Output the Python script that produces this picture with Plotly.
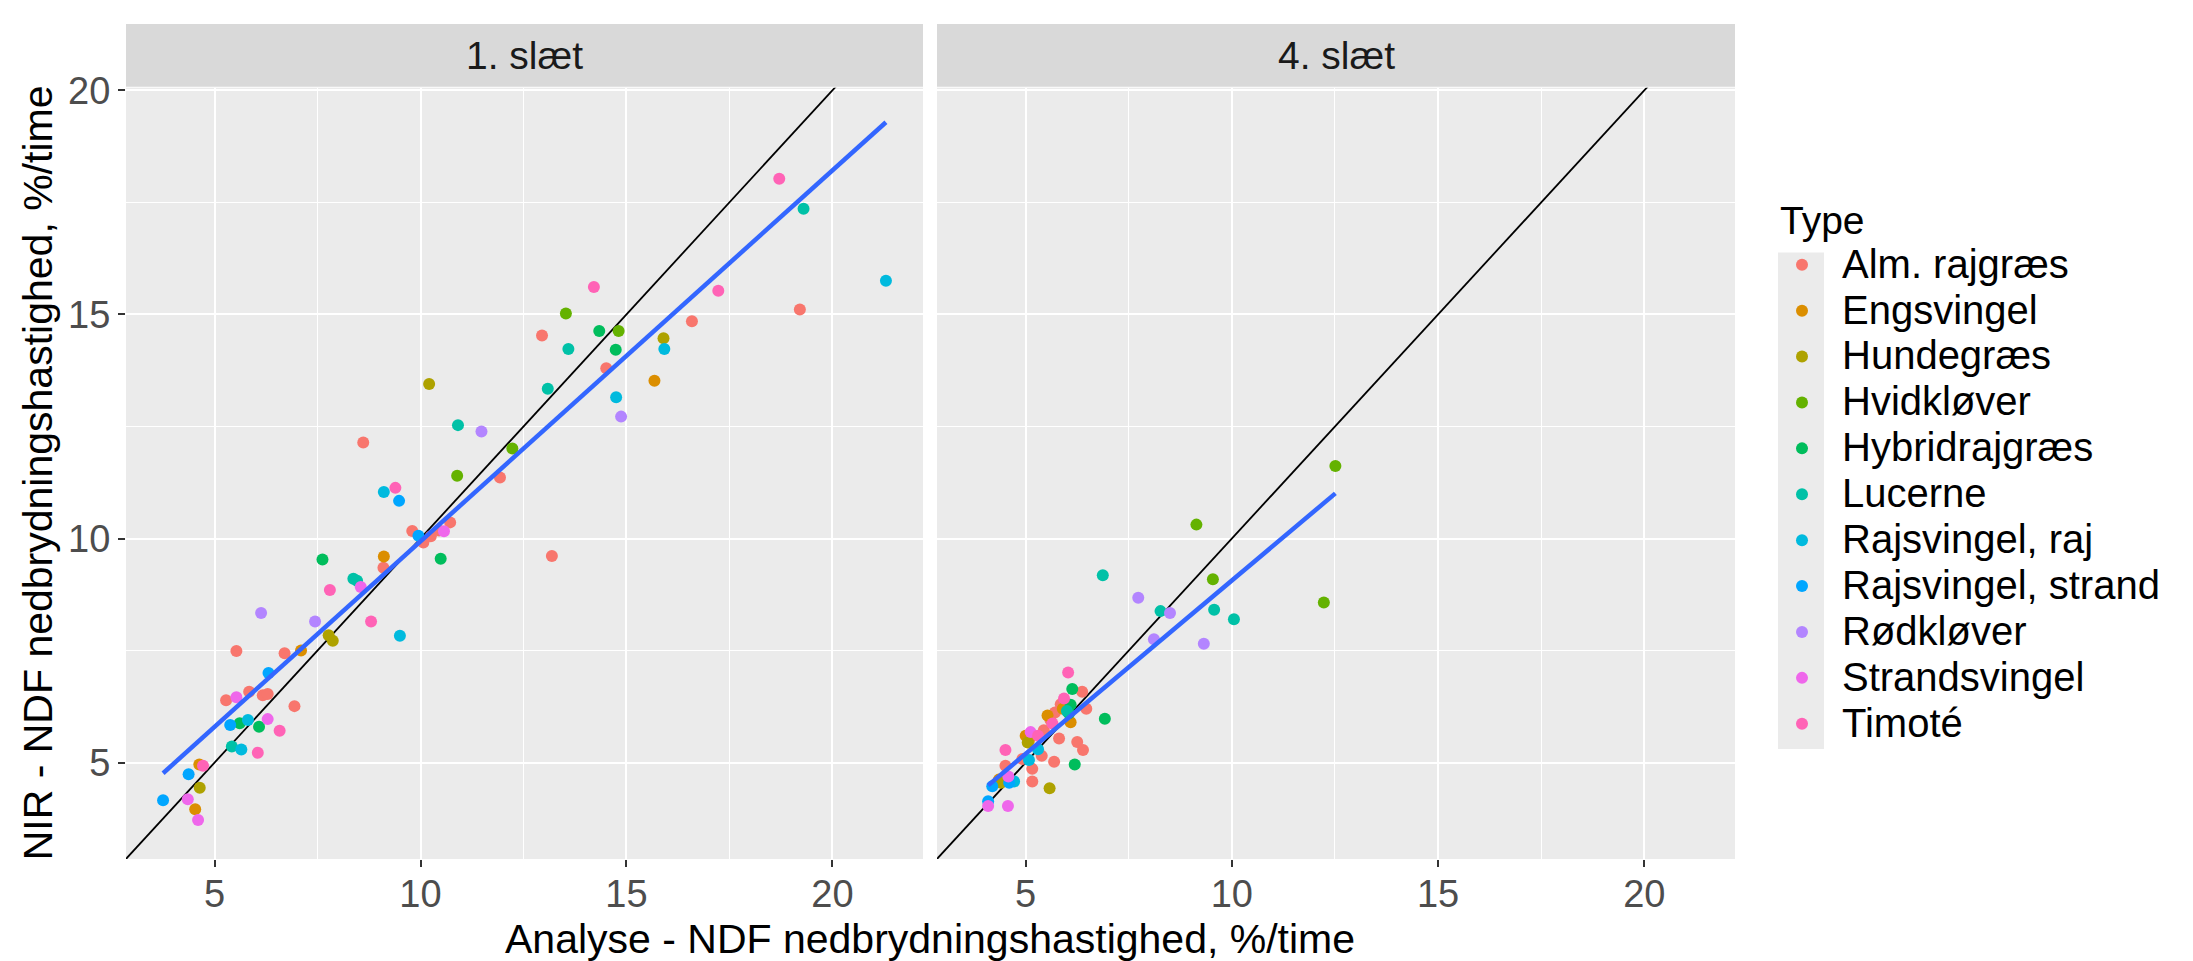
import numpy as np
import plotly.graph_objects as go

W, H = 2193, 961
FONT = "Liberation Sans, Arial, sans-serif"

TYPES = ["Alm. rajgræs", "Engsvingel", "Hundegræs", "Hvidkløver", "Hybridrajgræs",
         "Lucerne", "Rajsvingel, raj", "Rajsvingel, strand", "Rødkløver",
         "Strandsvingel", "Timoté"]
COLORS = ["#F8766D", "#DB8E00", "#AEA200", "#64B200", "#00BD5C", "#00C1A7",
          "#00BADE", "#00A6FF", "#B385FF", "#EF67EB", "#FF63B6"]
FACETS = ["1. slæt", "4. slæt"]
X_TICKS = [5, 10, 15, 20]
Y_TICKS = [5, 10, 15, 20]
MINOR_TICKS = [7.5, 12.5, 17.5]
X_TITLE = "Analyse - NDF nedbrydningshastighed, %/time"
Y_TITLE = "NIR - NDF nedbrydningshastighed, %/time"
LEGEND_TITLE = "Type"

# ---- 1. slæt : type index, analyse (x), NIR (y)
P1_TYPE = [0]*20 + [1]*5 + [2]*5 + [3]*4 + [4]*6 + [5]*7 + [6]*7 + [7]*6 + [8]*4 + [9]*6 + [10]*9
P1_X = [5.28, 5.84, 6.17, 6.29, 6.94, 5.53, 6.70, 9.10, 8.61, 9.80, 10.07, 10.25, 10.45, 10.72, 11.93, 13.19, 12.95, 14.51, 16.59, 19.21,
        4.53, 4.63, 7.10, 9.11, 15.68,
        4.64, 7.77, 7.87, 10.21, 15.90,
        10.89, 12.23, 13.53, 14.81,
        5.61, 6.08, 7.62, 10.49, 14.34, 14.74,
        5.42, 8.37, 8.46, 10.91, 13.09, 13.59, 19.30,
        5.81, 5.65, 9.11, 9.50, 14.75, 15.92, 21.30,
        3.75, 4.37, 5.38, 6.31, 9.48, 9.95,
        6.13, 7.44, 11.48, 14.87,
        4.35, 4.60, 6.29, 5.53, 8.55, 10.57,
        4.72, 6.58, 6.05, 7.80, 8.80, 9.39, 14.21, 17.23, 18.71]
P1_Y = [6.39, 6.58, 6.50, 6.53, 6.26, 7.49, 7.44, 9.35, 12.14, 10.17, 9.91, 10.05, 10.18, 10.36, 11.36, 9.61, 14.53, 13.80, 14.85, 15.11,
        3.96, 4.96, 7.50, 9.60, 13.52,
        4.44, 7.84, 7.72, 13.45, 14.47,
        11.40, 12.01, 15.02, 14.63,
        5.88, 5.80, 9.53, 9.55, 14.63, 14.21,
        5.36, 9.10, 9.06, 12.53, 13.34, 14.23, 17.36,
        5.95, 5.29, 11.04, 7.83, 13.15, 14.23, 15.75,
        4.16, 4.74, 5.84, 7.00, 10.84, 10.06,
        8.34, 8.15, 12.39, 12.72,
        4.18, 3.72, 5.97, 6.46, 8.92, 10.16,
        4.93, 5.71, 5.22, 8.85, 8.15, 11.13, 15.61, 15.53, 18.03]

# ---- 4. slæt
P2_TYPE = [0]*15 + [1]*6 + [2]*3 + [3]*4 + [4]*5 + [5]*5 + [6]*3 + [7]*3 + [8]*4 + [9]*4 + [10]*5
P2_X = [6.37, 6.47, 5.71, 5.81, 6.25, 6.39, 5.44, 5.39, 5.69, 5.16, 5.16, 4.51, 4.92, 5.85, 5.60,
        6.09, 5.53, 5.00, 5.08, 4.35, 5.90,
        5.58, 4.40, 5.05,
        12.51, 9.14, 9.54, 12.23,
        6.13, 6.09, 6.92, 6.19, 6.05,
        6.87, 8.27, 9.57, 10.05, 6.00,
        4.72, 5.08, 5.30,
        4.19, 4.09, 4.60,
        7.73, 8.50, 8.11, 9.32,
        5.12, 4.58, 4.09, 4.57,
        6.03, 5.93, 5.65, 4.51, 5.30]
P2_Y = [6.58, 6.20, 6.12, 5.54, 5.46, 5.28, 5.72, 5.15, 5.02, 4.86, 4.58, 4.93, 5.08, 6.30, 5.95,
        5.90, 6.05, 5.60, 5.50, 4.62, 6.20,
        4.43, 4.55, 5.45,
        11.62, 10.31, 9.09, 8.57,
        6.64, 6.29, 5.98, 4.96, 6.10,
        9.18, 8.38, 8.41, 8.20, 6.15,
        4.58, 5.06, 5.30,
        4.47, 4.14, 4.55,
        8.68, 8.34, 7.75, 7.65,
        5.68, 4.69, 4.03, 4.03,
        7.01, 6.43, 5.87, 5.28, 5.60]

X_RANGE = [2.85, 22.2]
Y_RANGE = [2.85, 20.06]

# panel geometry (pixels)
PANELS_X = [(126, 923), (937, 1735)]
PANEL_TOP, PANEL_BOTTOM = 71, 857
STRIP_TOP = 6


def px(x):
    return x / W


def py(y):
    return (H - y) / H


fig = go.Figure()
panels = [(P1_TYPE, P1_X, P1_Y), (P2_TYPE, P2_X, P2_Y)]
for pi, (tp, xs, ys) in enumerate(panels):
    xa = "x" if pi == 0 else "x2"
    ya = "y" if pi == 0 else "y2"
    tp = np.array(tp)
    xs = np.array(xs)
    ys = np.array(ys)
    # identity line (geom_abline)
    fig.add_trace(go.Scatter(x=[0, 25], y=[0, 25], mode="lines",
                             line=dict(color="black", width=1.8),
                             showlegend=False, hoverinfo="skip", xaxis=xa, yaxis=ya))
    for ti, name in enumerate(TYPES):
        m = tp == ti
        fig.add_trace(go.Scatter(
            x=xs[m], y=ys[m], mode="markers",
            name=f'<span style="font-size:40px">{name}</span>',
            legendgroup=name, showlegend=(pi == 0),
            marker=dict(color=COLORS[ti], size=12, line=dict(width=0)),
            xaxis=xa, yaxis=ya))
    # linear fit (geom_smooth, method = lm)
    b, a = np.polyfit(xs, ys, 1)
    xf = np.array([xs.min(), xs.max()])
    fig.add_trace(go.Scatter(x=xf, y=a + b * xf, mode="lines",
                             line=dict(color="#3366FF", width=4.5),
                             showlegend=False, hoverinfo="skip", xaxis=xa, yaxis=ya))

grid_minor = dict(tickmode="array", tickvals=MINOR_TICKS, showgrid=True,
                  gridcolor="white", gridwidth=1.2, ticks="")
tickfont = dict(family=FONT, size=38, color="#4D4D4D")
axis_x = dict(
    range=X_RANGE, tickmode="array", tickvals=X_TICKS, showgrid=True, gridcolor="white",
    gridwidth=2.4, zeroline=False, showline=False, ticks="outside", ticklen=7, tickwidth=1.6,
    tickcolor="#333333", tickfont=tickfont, ticklabelstandoff=-6, minor=grid_minor,
)

shapes = []
annotations = []
for pi, (x0, x1) in enumerate(PANELS_X):
    shapes.append(dict(type="rect", xref="paper", yref="paper",
                       x0=px(x0), x1=px(x1), y0=py(PANEL_TOP - 1), y1=py(STRIP_TOP),
                       fillcolor="#D9D9D9", line=dict(width=0), layer="below"))
    annotations.append(dict(text=FACETS[pi], xref="paper", yref="paper",
                            x=px((x0 + x1) / 2), y=py((STRIP_TOP + PANEL_TOP) / 2),
                            xanchor="center", yanchor="middle", showarrow=False,
                            font=dict(family=FONT, size=39, color="#1A1A1A")))

# legend key background
shapes.append(dict(type="rect", xref="paper", yref="paper",
                   x0=px(1778), x1=px(1824), y0=py(745), y1=py(239),
                   fillcolor="#EBEBEB", line=dict(width=0), layer="below"))

annotations.append(dict(text=LEGEND_TITLE, xref="paper", yref="paper",
                        x=px(1778), y=py(206), xanchor="left", yanchor="middle",
                        showarrow=False, font=dict(family=FONT, size=39, color="black")))
annotations.append(dict(text=X_TITLE, xref="paper", yref="paper",
                        x=px((126 + 1735) / 2), y=py(939), xanchor="center", yanchor="middle",
                        showarrow=False, font=dict(family=FONT, size=41, color="black")))
annotations.append(dict(text=Y_TITLE, xref="paper", yref="paper", textangle=-90,
                        x=px(38), y=py((PANEL_TOP + PANEL_BOTTOM) / 2), xanchor="center",
                        yanchor="middle", showarrow=False,
                        font=dict(family=FONT, size=41, color="black")))

fig.update_layout(
    width=W, height=H, autosize=False,
    margin=dict(l=0, r=0, t=0, b=0),
    paper_bgcolor="white", plot_bgcolor="#EBEBEB",
    font=dict(family=FONT),
    xaxis=dict(domain=[px(126), px(923)], anchor="y", **axis_x),
    xaxis2=dict(domain=[px(937), px(1735)], anchor="y2", **axis_x),
    yaxis=dict(domain=[py(PANEL_BOTTOM), py(PANEL_TOP)], anchor="x", range=Y_RANGE,
               tickmode="array", tickvals=Y_TICKS, showgrid=True, gridcolor="white",
               gridwidth=2.4, zeroline=False, showline=False, ticks="outside", ticklen=7,
               tickwidth=1.6, tickcolor="#333333", tickfont=tickfont, minor=grid_minor),
    yaxis2=dict(domain=[py(PANEL_BOTTOM), py(PANEL_TOP)], anchor="x2", range=Y_RANGE,
                tickmode="array", tickvals=Y_TICKS, showticklabels=False, showgrid=True,
                gridcolor="white", gridwidth=2.4, zeroline=False, showline=False, ticks="",
                minor=grid_minor),
    shapes=shapes,
    annotations=annotations,
    showlegend=True,
    legend=dict(x=px(1762), y=py(223), xanchor="left", yanchor="top",
                bgcolor="rgba(0,0,0,0)", borderwidth=0,
                font=dict(family=FONT, size=33, color="black"),
                itemwidth=70, tracegroupgap=0),
)

fig.write_html("out.html")
